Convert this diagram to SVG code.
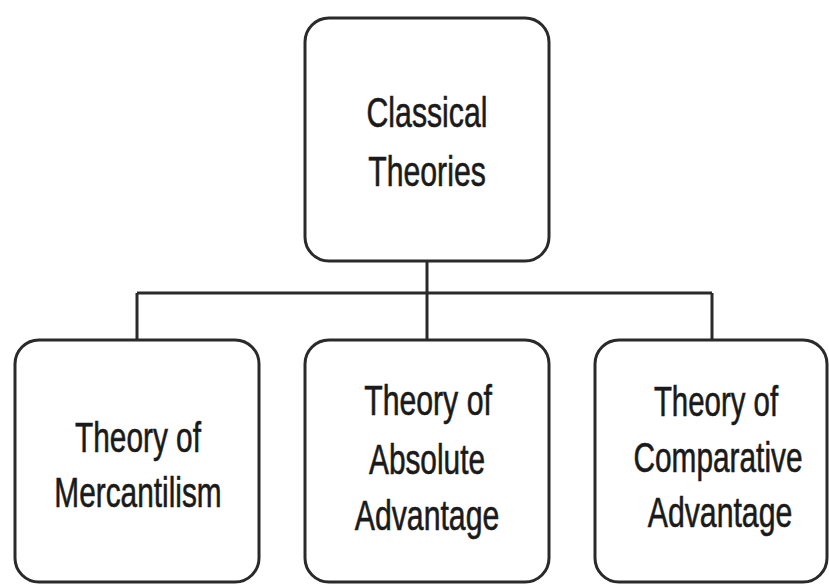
<svg xmlns="http://www.w3.org/2000/svg" width="829" height="584" viewBox="0 0 829 584">
<style>
.box{fill:#ffffff;stroke:#2a2a2a;stroke-width:3}
.con{fill:none;stroke:#2a2a2a;stroke-width:3}
text{font-family:"Liberation Sans",Arial,sans-serif;font-size:42px;fill:#1a1a1a;stroke:#1a1a1a;stroke-width:0.6;text-anchor:middle}
</style>
<rect width="829" height="584" fill="#ffffff"/>
<g id="connectors">
<path class="con" d="M427 261 V293 M137 293 H712 M137 293 V340 M427 293 V340 M712 293 V340"/>
</g>
<g id="classical">
<rect class="box" x="305" y="18" width="244" height="243" rx="24"/>
<text transform="translate(427 127) scale(0.72 1)">Classical</text>
<text transform="translate(427 186) scale(0.72 1)">Theories</text>
</g>
<g id="mercantilism">
<rect class="box" x="15" y="340" width="244" height="242" rx="24"/>
<text transform="translate(138 452) scale(0.71 1)">Theory of</text>
<text transform="translate(138 507) scale(0.71 1)">Mercantilism</text>
</g>
<g id="absolute">
<rect class="box" x="305" y="340" width="244" height="242" rx="24"/>
<text transform="translate(428 415) scale(0.72 1)">Theory of</text>
<text transform="translate(427 474) scale(0.71 1)">Absolute</text>
<text transform="translate(427 530) scale(0.72 1)">Advantage</text>
</g>
<g id="comparative">
<rect class="box" x="595" y="340" width="232" height="242" rx="24"/>
<text transform="translate(716 416) scale(0.7 1)">Theory of</text>
<text transform="translate(718 472) scale(0.71 1)">Comparative</text>
<text transform="translate(720 527) scale(0.72 1)">Advantage</text>
</g>
</svg>
